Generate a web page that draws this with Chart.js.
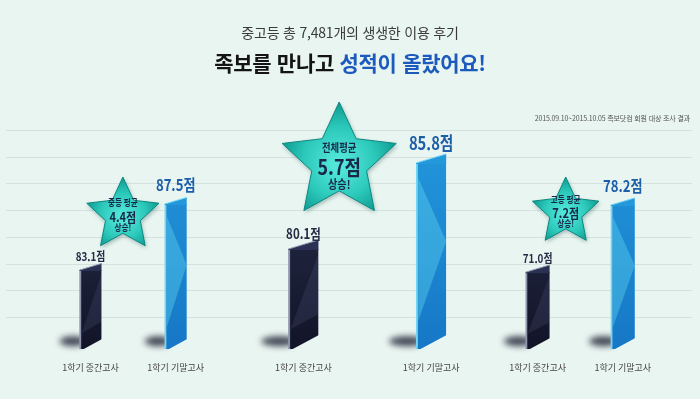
<!DOCTYPE html>
<html lang="ko">
<head>
<meta charset="utf-8">
<script src="https://cdn.jsdelivr.net/npm/chart.js@4.4.1/dist/chart.umd.min.js"></script>
<style>
    html, body { margin: 0; padding: 0; background: #e9f5f1; }
    #wrap { position: relative; width: 700px; height: 399px; overflow: hidden; }
    #chartExam { position: absolute; left: 0; top: 0; }
    .head1, .head2, .note { position: absolute; left: 0; width: 700px; text-align: center; font-family: 'Noto Sans CJK KR', sans-serif; }
    .head1 { top: 24px; font-size: 14px; line-height: 16px; color: #3a3a3a; letter-spacing: -0.2px; }
    .head2 { top: 49px; font-size: 21px; line-height: 26px; font-weight: 700; color: #141414; letter-spacing: -0.3px; }
    .head2 span { color: #1c5bbd; }
    .note { top: 113px; width: 690px; text-align: right; font-size: 7px; line-height: 10px; color: #555; letter-spacing: -0.15px; }
</style>
</head>
<body>
<div id="wrap">
    <canvas id="chartExam" width="700" height="399"></canvas>
    <div class="head1">중고등 총 7,481개의 생생한 이용 후기</div>
    <div class="head2">족보를 만나고 <span>성적이 올랐어요!</span></div>
    <div class="note">2015.09.10~2015.10.05 족보닷컴 회원 대상 조사 결과</div>
</div>
<script>
// data
const groups = ['중등 평균', '전체평균', '고등 평균'];
const examNames = ['1학기 중간고사', '1학기 기말고사'];
const midterm = [83.1, 80.1, 71.0];
const finals = [87.5, 85.8, 78.2];

// each group is drawn on its own value axis (the picture does not share one scale)
const axisMin = [77.83, 73.47, 62.73];
const axisMax = [92.43, 87.98, 86.26];

// layout: category slot of each bar, bar widths, star placement
const slotCount = 31;
const slots = [3, 7, 13, 19, 24, 28];
const barWidth = [22, 30, 24];
const labelSize = [[12, 16], [14, 18], [12, 16]];
const starRadius = [38, 60, 35];
const starFrac = [0.38, 0.28, 0.33];
const starTop = [85, 32, 82];
const starFont = [[9, 13, 9], [11, 21, 12], [9, 13, 9]];
const starLineY = [[-12, 2, 13], [-14, 5, 22], [-12, 1, 12]];
const numFont = "'Noto Sans CJK KR', sans-serif";

const ctx = document.getElementById('chartExam');
const labels = [];
for (let i = 0; i < slotCount; i++) labels.push('');
slots.forEach((s, i) => { labels[s] = examNames[i % 2]; });

function makeFill(chart, dark) {
    const area = chart.chartArea;
    if (!area) return dark ? '#1c2038' : '#1f8bd6';
    const g = chart.ctx.createLinearGradient(0, area.top, 0, area.bottom);
    if (dark) {
        g.addColorStop(0, '#2b3152');
        g.addColorStop(1, '#121528');
    } else {
        g.addColorStop(0, '#2399dc');
        g.addColorStop(1, '#1677c6');
    }
    return g;
}

const datasets = groups.map((name, g) => {
    const data = [];
    for (let i = 0; i < slotCount; i++) data.push(null);
    data[slots[2 * g]] = midterm[g];
    data[slots[2 * g + 1]] = finals[g];
    return {
        label: name,
        data: data,
        yAxisID: 'y' + g,
        base: axisMin[g],
        barThickness: barWidth[g],
        grouped: false,
        borderSkipped: false,
        borderWidth: { left: 2, top: 0, right: 0, bottom: 0 },
        borderColor: c => c.dataIndex === slots[2 * g] ? '#8d96ad' : '#74d6f3',
        backgroundColor: c => makeFill(c.chart, c.dataIndex === slots[2 * g]),
    };
});

const scales = {
    x: {
        grid: { display: false, drawTicks: false },
        border: { display: false },
        ticks: {
            autoSkip: false,
            maxRotation: 0,
            padding: 13,
            color: '#444',
            font: { family: "'Noto Sans CJK KR', sans-serif", size: 9 }
        }
    }
};
groups.forEach((n, g) => {
    scales['y' + g] = { display: false, min: axisMin[g], max: axisMax[g] };
});

function eachBar(chart, fn) {
    chart.data.datasets.forEach((ds, g) => {
        const meta = chart.getDatasetMeta(g);
        meta.data.forEach((bar, i) => {
            if (ds.data[i] === null) return;
            fn(bar, ds.data[i], g, i === slots[2 * g]);
        });
    });
}

// narrow bold text, like the condensed face in the picture
function narrowText(c, txt, x, y, size, squeeze) {
    c.save();
    c.translate(x, y);
    c.scale(squeeze, 1);
    c.font = "bold " + size + "px " + numFont;
    c.fillText(txt, 0, 0);
    c.restore();
}

function drawStar(c, x, y, r) {
    c.beginPath();
    for (let k = 0; k < 10; k++) {
        const rr = k % 2 === 0 ? r : r * 0.48;
        const a = -Math.PI / 2 + k * Math.PI / 5;
        const px = x + rr * Math.cos(a), py = y + rr * Math.sin(a);
        if (k === 0) c.moveTo(px, py); else c.lineTo(px, py);
    }
    c.closePath();
}

const decoPlugin = {
    id: 'deco',
    beforeDatasetsDraw(chart) {
        const c = chart.ctx, a = chart.chartArea;
        c.save();
        // background rules
        c.strokeStyle = '#d3e2de';
        c.lineWidth = 1;
        for (let i = 0; i < 8; i++) {
            const y = Math.round(a.top + i * (a.bottom - a.top) / 8.2) + 0.5;
            c.beginPath();
            c.moveTo(6, y);
            c.lineTo(692, y);
            c.stroke();
        }
        // soft shadow at the foot of each bar
        c.filter = 'blur(3px)';
        eachBar(chart, (bar) => {
            const w = bar.width;
            c.fillStyle = 'rgba(35, 40, 58, 0.85)';
            c.beginPath();
            c.ellipse(bar.x - 0.8 * w, bar.base - 8, 0.6 * w, 5, 0, 0, Math.PI * 2);
            c.fill();
        });
        c.restore();
    },
    afterDatasetsDraw(chart) {
        const c = chart.ctx, a = chart.chartArea;
        c.save();
        eachBar(chart, (bar, v, g, dark) => {
            const l = bar.x - bar.width / 2, r = bar.x + bar.width / 2;
            const t = bar.y, b = bar.base, h = b - t;
            const rise = bar.width * 0.3;
            // slanted top: the right corner stands a little higher
            c.beginPath();
            c.moveTo(l, t);
            c.lineTo(r, t - rise);
            c.lineTo(r, t + 1);
            c.lineTo(l, t + 1);
            c.closePath();
            c.fillStyle = dark ? '#2b3152' : '#2399dc';
            c.fill();
            c.beginPath();
            c.moveTo(l, t);
            c.lineTo(r, t - rise);
            c.strokeStyle = dark ? '#8d96ad' : '#74d6f3';
            c.lineWidth = 1;
            c.stroke();
            // slanted foot: the right corner is cut higher
            c.beginPath();
            c.moveTo(l + 2, b + 1);
            c.lineTo(r + 1, b + 1);
            c.lineTo(r + 1, b - rise * 1.6);
            c.closePath();
            c.fillStyle = '#e9f5f1';
            c.fill();
            // light facets
            c.beginPath();
            if (dark) {
                c.moveTo(r, t + 0.05 * h);
                c.lineTo(r, t + 0.65 * h);
                c.lineTo(l + 2, t + 0.8 * h);
                c.fillStyle = 'rgba(140, 150, 200, 0.12)';
            } else {
                c.moveTo(l + 2, t + 0.08 * h);
                c.lineTo(r, t + 0.42 * h);
                c.lineTo(l + 2, t + 0.85 * h);
                c.fillStyle = 'rgba(95, 215, 240, 0.4)';
            }
            c.closePath();
            c.fill();
        });
        // value labels
        c.textAlign = 'center';
        c.textBaseline = 'bottom';
        eachBar(chart, (bar, v, g, dark) => {
            const size = labelSize[g][dark ? 0 : 1];
            c.fillStyle = dark ? '#262b45' : '#1d5ea8';
            narrowText(c, v.toFixed(1) + '점', bar.x, bar.y - (dark ? 8 : 11), size, 0.82);
        });
        // stars with the rise of each group
        groups.forEach((name, g) => {
            const meta = chart.getDatasetMeta(g);
            const d = meta.data[slots[2 * g]], f = meta.data[slots[2 * g + 1]];
            const x = d.x + starFrac[g] * (f.x - d.x);
            const y = a.top + starTop[g];
            const r = starRadius[g];
            c.save();
            const grad = c.createRadialGradient(x, y + 2, r * 0.1, x, y, r);
            grad.addColorStop(0, '#52e6d8');
            grad.addColorStop(0.55, '#2cc9bb');
            grad.addColorStop(1, '#0d9a8f');
            c.shadowColor = 'rgba(0, 60, 60, 0.35)';
            c.shadowBlur = 4;
            c.shadowOffsetX = 1;
            c.shadowOffsetY = 2;
            drawStar(c, x, y, r);
            c.fillStyle = grad;
            c.fill();
            c.shadowColor = 'transparent';
            c.strokeStyle = '#0b877f';
            c.lineWidth = 1;
            c.stroke();
            c.restore();
            const rise = (finals[g] - midterm[g]).toFixed(1) + '점';
            const lines = [name, rise, '상승!'];
            c.textBaseline = 'middle';
            c.fillStyle = '#17284a';
            lines.forEach((txt, k) => {
                narrowText(c, txt, x, y + starLineY[g][k], starFont[g][k], 0.85);
            });
        });
        c.restore();
    }
};

const config = {
    type: 'bar',
    data: { labels: labels, datasets: datasets },
    options: {
        responsive: false,
        animation: false,
        layout: { padding: { left: 16, right: 24, top: 130, bottom: 13 } },
        plugins: {
            legend: { display: false },
            tooltip: { enabled: false }
        },
        scales: scales
    },
    plugins: [decoPlugin]
};
var chart = new Chart(ctx, config);
</script>
</body>
</html>
